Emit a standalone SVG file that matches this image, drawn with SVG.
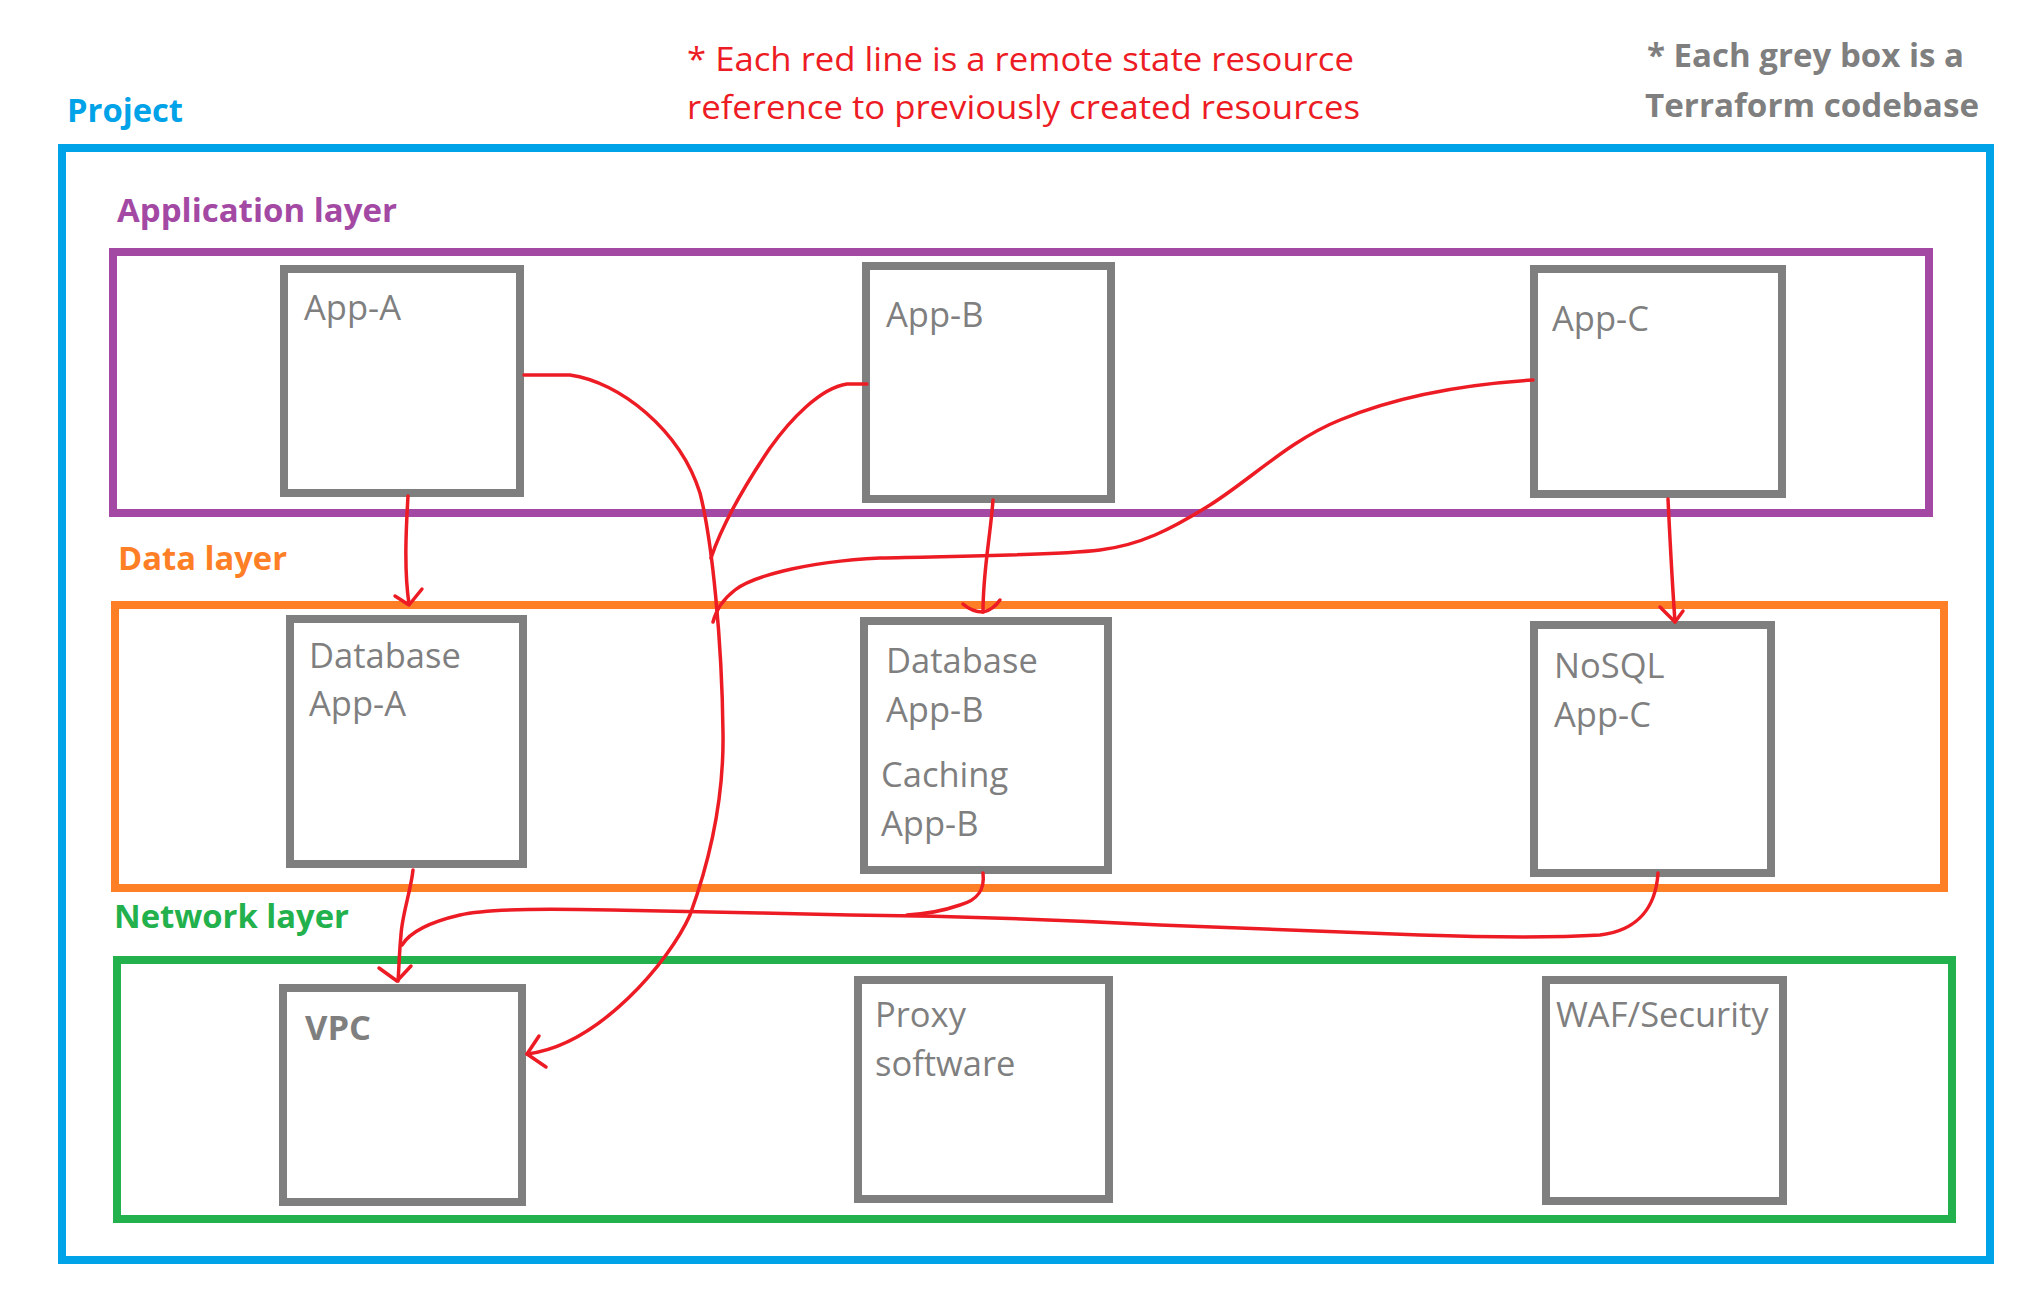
<svg xmlns="http://www.w3.org/2000/svg" width="2037" height="1304" viewBox="0 0 2037 1304">
<style>
.frame{fill:none;stroke-width:8}
.box{fill:none;stroke:#7F7F7F;stroke-width:8}
.t{font-family:"Open Sans","Liberation Sans",sans-serif;font-size:34.5px;fill:#7F7F7F}
.h{font-family:"Open Sans","Liberation Sans",sans-serif;font-size:32px;font-weight:bold}
.note{font-family:"Open Sans","Liberation Sans",sans-serif;font-size:32px;fill:#ED1C24}
.wire{fill:none;stroke:#ED1C24;stroke-width:3.5;stroke-linecap:round;stroke-linejoin:round}
</style>
<rect width="2037" height="1304" fill="#FFFFFF"/>
<g id="notes">
<text class="note" x="687" y="71" textLength="667" lengthAdjust="spacingAndGlyphs">* Each red line is a remote state resource</text>
<text class="note" x="687" y="119" textLength="673" lengthAdjust="spacingAndGlyphs">reference to previously created resources</text>
<text class="h" x="1647" y="67" fill="#7F7F7F" textLength="317" lengthAdjust="spacingAndGlyphs">* Each grey box is a</text>
<text class="h" x="1645" y="117" fill="#7F7F7F" textLength="334" lengthAdjust="spacingAndGlyphs">Terraform codebase</text>
</g>
<g id="project">
<rect class="frame" x="62" y="148" width="1928" height="1112" stroke="#00A2E8"/>
<text class="h" x="67" y="122" fill="#00A2E8" textLength="116" lengthAdjust="spacingAndGlyphs">Project</text>
</g>
<g id="application-layer">
<rect class="frame" x="113" y="252" width="1816" height="261" stroke="#A349A4"/>
<text class="h" x="117" y="222" fill="#A349A4" textLength="280" lengthAdjust="spacingAndGlyphs">Application layer</text>
</g>
<g id="data-layer">
<rect class="frame" x="115" y="605" width="1829" height="283" stroke="#FF7F27"/>
<text class="h" x="118" y="570" fill="#FF7F27" textLength="169" lengthAdjust="spacingAndGlyphs">Data layer</text>
</g>
<g id="network-layer">
<rect class="frame" x="117" y="960" width="1835" height="259" stroke="#22B14C"/>
<text class="h" x="114" y="928" fill="#22B14C" textLength="235" lengthAdjust="spacingAndGlyphs">Network layer</text>
</g>
<g id="app-a">
<rect class="box" x="284" y="269" width="236" height="224"/>
<text class="t" x="304" y="320">App-A</text>
</g>
<g id="app-b">
<rect class="box" x="866" y="266" width="245" height="233"/>
<text class="t" x="886" y="327">App-B</text>
</g>
<g id="app-c">
<rect class="box" x="1534" y="269" width="248" height="225"/>
<text class="t" x="1552" y="331">App-C</text>
</g>
<g id="db-app-a">
<rect class="box" x="290" y="619" width="233" height="245"/>
<text class="t" x="309" y="668">Database</text>
<text class="t" x="309" y="716">App-A</text>
</g>
<g id="db-app-b">
<rect class="box" x="864" y="621" width="244" height="249"/>
<text class="t" x="886" y="673">Database</text>
<text class="t" x="886" y="722">App-B</text>
<text class="t" x="881" y="787">Caching</text>
<text class="t" x="881" y="836">App-B</text>
</g>
<g id="nosql-app-c">
<rect class="box" x="1534" y="625" width="237" height="248"/>
<text class="t" x="1554" y="678">NoSQL</text>
<text class="t" x="1554" y="727">App-C</text>
</g>
<g id="vpc">
<rect class="box" x="283" y="988" width="239" height="214"/>
<text class="t" x="305" y="1040" font-weight="bold">VPC</text>
</g>
<g id="proxy">
<rect class="box" x="858" y="980" width="251" height="219"/>
<text class="t" x="875" y="1027">Proxy</text>
<text class="t" x="875" y="1076">software</text>
</g>
<g id="waf">
<rect class="box" x="1546" y="980" width="237" height="221"/>
<text class="t" x="1556" y="1027">WAF/Security</text>
</g>
<g id="connectors">
<path class="wire" d="M524,375 L570,375 C620,382 680,430 700,493 C712,540 722,640 723,733 C724,800 710,860 690,915 C670,960 600,1045 527,1054"/>
<path class="wire" d="M539,1036 L527,1054 L546,1067"/>
<path class="wire" d="M867,384 L847,384 C820,388 790,420 770,448 C745,485 722,525 711,558"/>
<path class="wire" d="M1533,380 C1470,384 1400,395 1340,420 C1290,440 1250,480 1210,505 C1170,530 1140,545 1100,550 C1050,556 950,556 880,558 C800,562 750,578 735,590 C722,600 716,610 713,622"/>
<path class="wire" d="M408,496 C406,530 404,570 409,604"/>
<path class="wire" d="M395,596 L409,605 L422,589"/>
<path class="wire" d="M993,500 C990,540 983,570 983,612"/>
<path class="wire" d="M963,604 Q972,612 983,612 Q993,610 1000,600"/>
<path class="wire" d="M1668,499 C1670,540 1672,580 1675,622"/>
<path class="wire" d="M1660,607 L1675,622 L1683,611"/>
<path class="wire" d="M413,870 C411,890 402,915 401,935 C399,955 399,970 398,981"/>
<path class="wire" d="M379,968 L397,981 L411,966"/>
<path class="wire" d="M983,873 C985,890 978,900 960,905 C940,912 925,914 907,915"/>
<path class="wire" d="M1658,873 C1656,905 1640,930 1600,935 C1550,938 1480,937 1420,935 L1160,925 C1050,919 950,916 850,915 L760,913 L612,910 C560,909 490,908 460,915 C430,922 410,932 402,945"/>
</g>
</svg>
